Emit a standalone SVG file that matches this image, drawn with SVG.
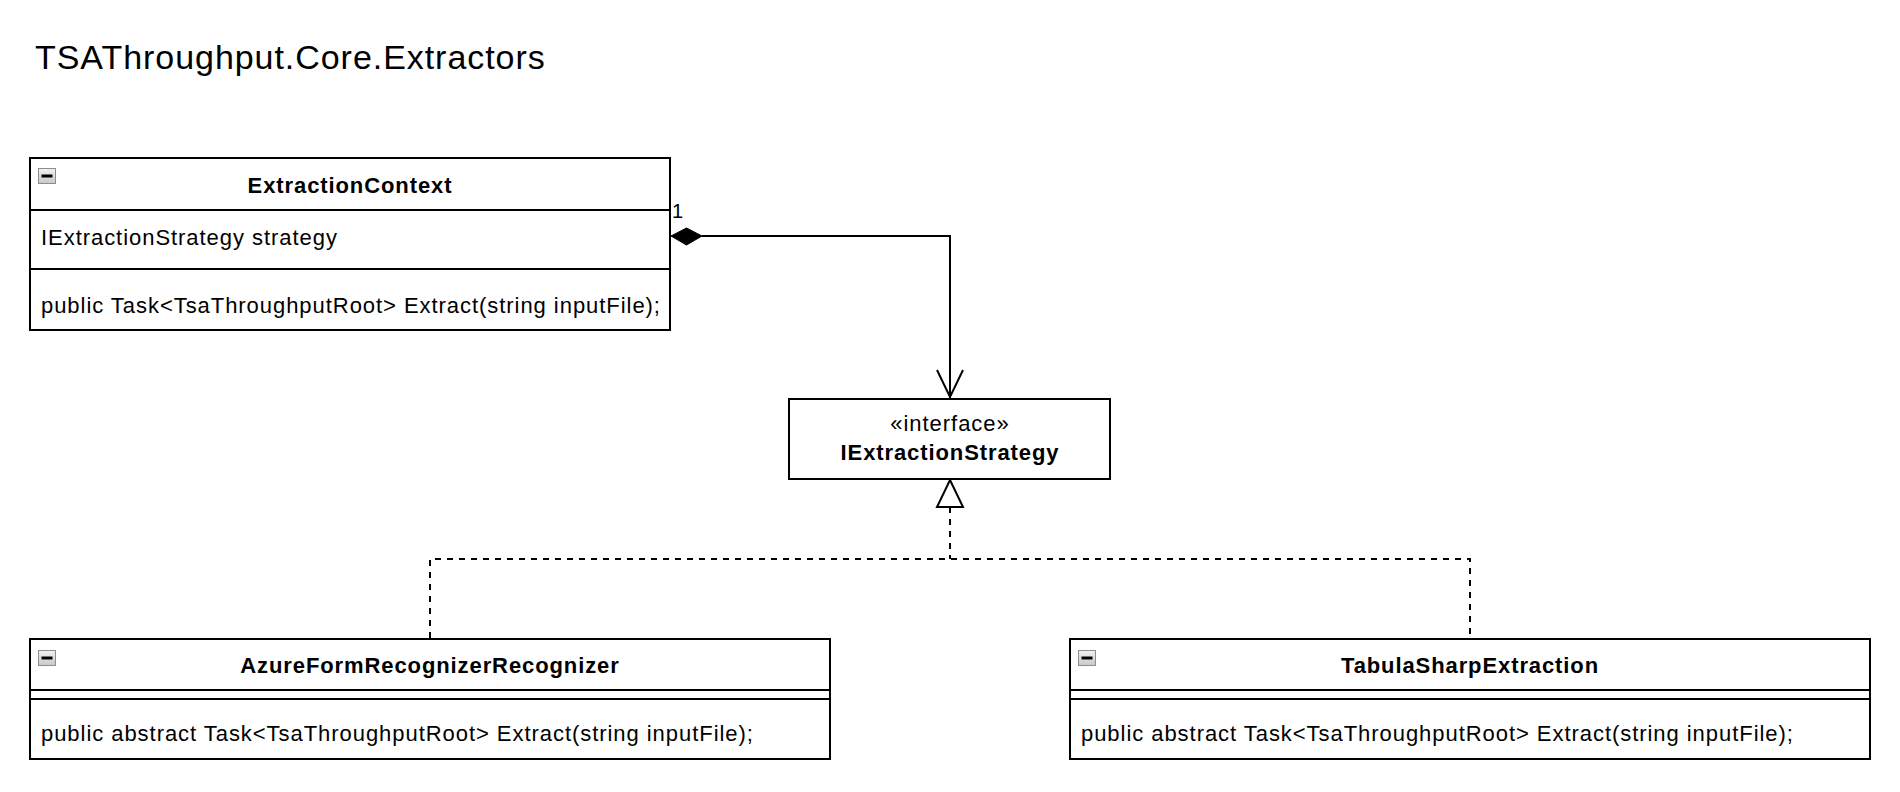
<svg xmlns="http://www.w3.org/2000/svg" width="1900" height="792" viewBox="0 0 1900 792">
<defs>
<linearGradient id="ig" x1="0" y1="0" x2="0" y2="1">
<stop offset="0" stop-color="#f2f2f2"/>
<stop offset="1" stop-color="#c8c8c8"/>
</linearGradient>
<g id="minus">
<rect x="0.5" y="0.5" width="17" height="15" fill="url(#ig)" stroke="#8a8e96" stroke-width="1"/>
<rect x="3.5" y="6.5" width="11" height="3" fill="#000"/>
</g>
</defs>
<style>
text{font-family:"Liberation Sans",Arial,Helvetica,sans-serif;fill:#000}
.t{font-size:22px;letter-spacing:0.95px}
.b{font-size:22px;font-weight:bold;letter-spacing:0.9px;text-anchor:middle}
.c{text-anchor:middle}
.box{fill:#fff;stroke:#000;stroke-width:2}
.ln{stroke:#000;stroke-width:2;fill:none}
.dash{stroke:#000;stroke-width:2;fill:none;stroke-dasharray:6 6}
</style>
<rect width="1900" height="792" fill="#fff"/>
<text x="35" y="69" style="font-size:34px;letter-spacing:0.95px">TSAThroughput.Core.Extractors</text>

<g id="connectors">
<path class="ln" d="M702,236 H950 V398"/>
<polygon points="671,236 686.5,228 702,236 686.5,245" fill="#000" stroke="#000" stroke-width="1"/>
<polyline class="ln" points="937,370 950,397 963,370"/>
<text x="672" y="218" style="font-size:20px">1</text>
<path class="dash" d="M950,507 V559"/>
<path class="dash" d="M430,638 V559 H1470 V638"/>
<polygon points="950,480 963,507 937,507" fill="#fff" stroke="#000" stroke-width="2"/>
</g>

<g id="ExtractionContext">
<rect class="box" x="30" y="158" width="640" height="172"/>
<line class="ln" x1="30" y1="210" x2="670" y2="210"/>
<line class="ln" x1="30" y1="269" x2="670" y2="269"/>
<use href="#minus" x="38" y="168"/>
<text class="b" x="350" y="193">ExtractionContext</text>
<text class="t" x="41" y="245">IExtractionStrategy strategy</text>
<text class="t" x="41" y="313">public Task&lt;TsaThroughputRoot&gt; Extract(string inputFile);</text>
</g>

<g id="IExtractionStrategy">
<rect class="box" x="789" y="399" width="321" height="80"/>
<text class="t c" x="950" y="431">«interface»</text>
<text class="b" x="950" y="460">IExtractionStrategy</text>
</g>

<g id="AzureFormRecognizerRecognizer">
<rect class="box" x="30" y="639" width="800" height="120"/>
<line class="ln" x1="30" y1="690" x2="830" y2="690"/>
<line class="ln" x1="30" y1="699" x2="830" y2="699"/>
<use href="#minus" x="38" y="650"/>
<text class="b" x="430" y="673">AzureFormRecognizerRecognizer</text>
<text class="t" x="41" y="741">public abstract Task&lt;TsaThroughputRoot&gt; Extract(string inputFile);</text>
</g>

<g id="TabulaSharpExtraction">
<rect class="box" x="1070" y="639" width="800" height="120"/>
<line class="ln" x1="1070" y1="690" x2="1870" y2="690"/>
<line class="ln" x1="1070" y1="699" x2="1870" y2="699"/>
<use href="#minus" x="1078" y="650"/>
<text class="b" x="1470" y="673">TabulaSharpExtraction</text>
<text class="t" x="1081" y="741">public abstract Task&lt;TsaThroughputRoot&gt; Extract(string inputFile);</text>
</g>
</svg>
